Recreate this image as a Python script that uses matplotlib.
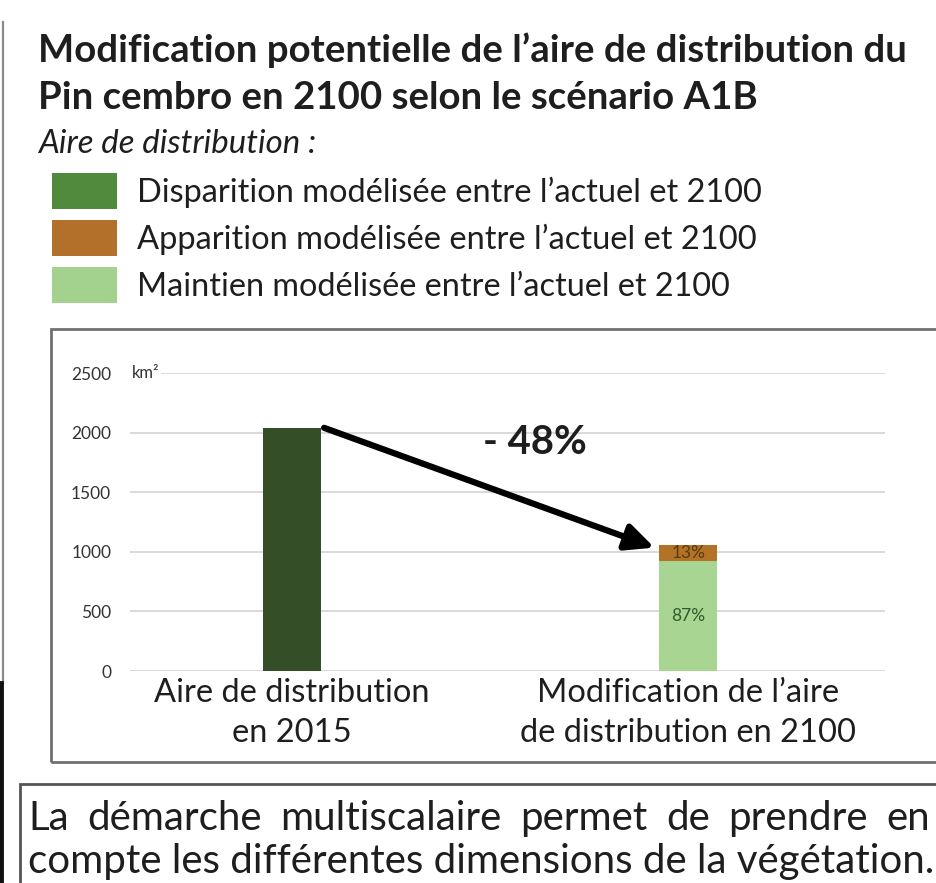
import matplotlib
matplotlib.use("Agg")
import matplotlib.pyplot as plt
from matplotlib.patches import Rectangle
from matplotlib.lines import Line2D
from matplotlib import font_manager

# ---- data -------------------------------------------------------------
categories = ["Aire de distribution\nen 2015", "Modification de l\u2019aire\nde distribution en 2100"]
area_2015 = [2040, 0]          # km², current distribution area
maintien = [0, 922]            # km², area kept in 2100
apparition = [0, 138]          # km², area gained in 2100
share_labels = ["87%", "13%"]
change_label = "- 48%"
yticks = [0, 500, 1000, 1500, 2000, 2500]
unit_label = "km\u00b2"

legend_labels = [
    "Disparition mod\u00e9lis\u00e9e entre l\u2019actuel et 2100",
    "Apparition mod\u00e9lis\u00e9e entre l\u2019actuel et 2100",
    "Maintien mod\u00e9lis\u00e9e entre l\u2019actuel et 2100",
]
title_lines = [
    "Modification potentielle de l\u2019aire de distribution du",
    "Pin cembro en 2100 selon le sc\u00e9nario A1B",
]
legend_heading = "Aire de distribution :"
footer_lines = [
    "La d\u00e9marche multiscalaire permet de prendre en",
    "compte les diff\u00e9rentes dimensions de la v\u00e9g\u00e9tation.",
]

# ---- styling ----------------------------------------------------------
installed = {f.name for f in font_manager.fontManager.ttflist}
def pick(*names):
    for n in names:
        if n in installed:
            return n
    return "DejaVu Sans"

NARROW = pick("Liberation Sans Narrow", "Lato", "DejaVu Sans")
HUMAN = pick("Lato", "Open Sans", "DejaVu Sans")
BOLD = pick("Lato", "Open Sans", "DejaVu Sans")

C_LEG = ["#4f8a3d", "#b3702a", "#a3d28e"]
C_BAR1 = "#344e27"
C_KEEP = "#a9d592"
C_GAIN = "#b27326"
TXT = "#1e1e1e"

W, H = 937, 883
fig = plt.figure(figsize=(W / 100, H / 100), dpi=100)
fig.patch.set_facecolor("white")
R = fig.canvas.get_renderer()


def fx(x):
    return x / W


def fy(y):
    return 1 - y / H


def fit(t, width_px):
    for _ in range(3):
        w = t.get_window_extent(R).width
        t.set_fontsize(t.get_fontsize() * width_px / w)
    return t


# frame line on the left edge
fig.add_artist(Line2D([fx(3), fx(3)], [fy(22), fy(683)], color="#8a8a8a", lw=1.6))
fig.add_artist(Line2D([fx(1.5), fx(1.5)], [fy(683), fy(883)], color="#111111", lw=3.5))

# title
t = fig.text(fx(38), fy(62), title_lines[0], fontsize=24, fontweight="bold",
             family=BOLD, color=TXT, ha="left", va="baseline")
fit(t, 867)
t2 = fig.text(fx(38), fy(109), title_lines[1], fontsize=t.get_fontsize(),
              fontweight="bold", family=BOLD, color=TXT, ha="left", va="baseline")

# legend
h = fig.text(fx(38), fy(153), legend_heading, fontsize=18, style="italic",
             family=NARROW, color=TXT, ha="left", va="baseline")
fit(h, 277)
box_tops = [173, 220, 267]
baselines = [202, 249, 296]
widths = [623, 620, 594]
for col, top, base, lab, wd in zip(C_LEG, box_tops, baselines, legend_labels, widths):
    fig.add_artist(Rectangle((fx(52), fy(top + 36)), fx(65), 36 / H,
                             facecolor=col, edgecolor="none"))
    lt = fig.text(fx(137), fy(base), lab, fontsize=18, family=NARROW,
                  color=TXT, ha="left", va="baseline")
    fit(lt, wd)

# chart frame
fig.add_artist(Rectangle((fx(51), fy(762)), fx(W + 20 - 51), (762 - 329) / H,
                         facecolor="none", edgecolor="#707070", lw=2))

# ---- bar chart --------------------------------------------------------
ax = fig.add_axes([fx(130), fy(671), fx(885 - 130), (671 - 373) / H])
bar_w = 0.146
x = list(range(len(categories)))
ax.bar(x, area_2015, width=bar_w, color=C_BAR1, zorder=3)
ax.bar(x, maintien, width=bar_w, color=C_KEEP, zorder=3)
ax.bar(x, apparition, width=bar_w, bottom=maintien, color=C_GAIN, zorder=3)
ax.set_xlim(-0.409, 1.497)
ax.set_ylim(0, 2500)
ax.set_yticks(yticks)
ax.yaxis.grid(True, color="#d9d9d9", lw=1.4, zorder=0)
ax.set_axisbelow(True)
for s in ax.spines.values():
    s.set_visible(False)
ax.tick_params(axis="y", length=0, pad=13.5, labelsize=12.5, labelcolor="#333333")
for lab in ax.get_yticklabels():
    lab.set_family(NARROW)
ax.set_xticks(x, categories)
ax.tick_params(axis="x", length=0, pad=5, labelsize=23.5, labelcolor=TXT)
for lab in ax.get_xticklabels():
    lab.set_family(NARROW)
    lab.set_linespacing(1.42)

# unit next to the top tick
ax.text(-0.405, 2500, unit_label, fontsize=12, family=NARROW, color="#333333",
        ha="left", va="center", zorder=4,
        bbox=dict(facecolor="white", edgecolor="none", pad=1.5))

# share labels inside the 2100 bar
ax.text(1, maintien[1] / 2, share_labels[0], fontsize=12.5, family=NARROW,
        color="#2f5a2a", ha="center", va="center", zorder=4)
ax.text(1, maintien[1] + apparition[1] / 2, share_labels[1], fontsize=12.5,
        family=NARROW, color="#5a3810", ha="center", va="center", zorder=4)

# change arrow between the two totals
total_2100 = maintien[1] + apparition[1]
ax.annotate("", xy=(1 - bar_w / 2 - 0.012, total_2100 - 25),
            xytext=(bar_w / 2 + 0.008, area_2015[0]),
            arrowprops=dict(arrowstyle="-|>,head_length=1.7,head_width=0.8",
                            color="black", lw=4.5, shrinkA=0, shrinkB=0),
            zorder=5)
ct = ax.text(0.614, 1913, change_label, fontsize=22, fontweight="bold",
             family=NARROW, color=TXT, ha="center", va="center", zorder=5)
fit(ct, 104)

# ---- footer box -------------------------------------------------------
fig.add_artist(Rectangle((fx(20), fy(H + 20)), fx(W + 20 - 20), (H + 20 - 784) / H,
                         facecolor="none", edgecolor="#555555", lw=2))

ft2 = fig.text(fx(28), fy(873), footer_lines[1], fontsize=24, family=HUMAN,
               color=TXT, ha="left", va="baseline")
fit(ft2, 904)
fsize = ft2.get_fontsize()

# first footer line is justified between the box margins
words = footer_lines[0].split()
arts = [fig.text(0, fy(830), w_, fontsize=fsize, family=HUMAN, color=TXT,
                 ha="left", va="baseline") for w_ in words]
wds = [a.get_window_extent(R).width for a in arts]
gap = (930 - 28 - sum(wds)) / (len(words) - 1)
xpos = 28
for a, wd in zip(arts, wds):
    a.set_x(fx(xpos))
    xpos += wd + gap

fig.savefig("out.png", dpi=100, facecolor="white")
